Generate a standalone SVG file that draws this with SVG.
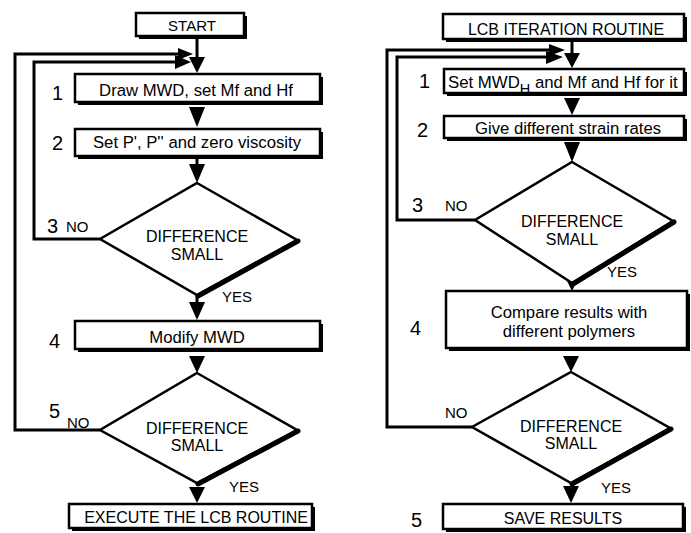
<svg xmlns="http://www.w3.org/2000/svg" width="691" height="533" viewBox="0 0 691 533">
<style>
.bx{fill:#fff;stroke:#000;stroke-width:2.5}
.sh{fill:#000}
.dm{fill:#fff;stroke:#000;stroke-width:2.5;stroke-linejoin:miter}
.de{stroke:#000;stroke-width:5;stroke-linecap:round}
.ln{fill:none;stroke:#000;stroke-width:3}
.ah{fill:#000}
text{font-family:"Liberation Sans",Arial,sans-serif;fill:#000}
.t{font-size:16px;text-anchor:middle}
.b{font-size:16.7px}
.n{font-size:20px}
.s{font-size:15px}
</style>
<rect width="691" height="533" fill="#fff"/>
<g id="connectors">
<polyline class="ln" points="100,430 15,430 15,54 180,54"/>
<polyline class="ln" points="100,239 34,239 34,62 178,62"/>
<polygon class="ah" points="178,48 178,60 193,54"/>
<polygon class="ah" points="175,55 175,69 191,62"/>
<line class="ln" x1="197" y1="39" x2="197" y2="58"/>
<polygon class="ah" points="189,57 205,57 197,73"/>
<polygon class="ah" points="189,107 205,107 197,127"/>
<line class="ln" x1="197" y1="159" x2="197" y2="165"/>
<polygon class="ah" points="189,164 205,164 197,183"/>
<line class="ln" x1="197" y1="294" x2="197" y2="303"/>
<polygon class="ah" points="189,302 205,302 197,320"/>
<polygon class="ah" points="189,356 205,356 197,373"/>
<polygon class="ah" points="189,487 205,487 197,503"/>
<polyline class="ln" points="472,427 387,427 387,50 550,50"/>
<polyline class="ln" points="475,220 397,220 397,57 548,57"/>
<polygon class="ah" points="549,44 549,56 565,50"/>
<polygon class="ah" points="546,51 546,64 563,57"/>
<line class="ln" x1="572" y1="42" x2="572" y2="54"/>
<polygon class="ah" points="564,53 580,53 572,68"/>
<polygon class="ah" points="564,98 580,98 572,115"/>
<polygon class="ah" points="564,142 580,142 572,162"/>
<polygon class="ah" points="565,277 579,277 572,291"/>
<polygon class="ah" points="563,356 579,356 571,372"/>
<polygon class="ah" points="563,486 579,486 571,503"/>
</g>
<g id="start">
<rect class="sh" x="139" y="16" width="108" height="23"/>
<rect class="bx" x="136" y="13" width="108" height="23"/>
<text class="t s" x="192" y="31">START</text>
</g>
<g id="l1">
<rect class="sh" x="78" y="77" width="245" height="28"/>
<rect class="bx" x="75" y="74" width="245" height="28"/>
<text class="t b" x="196" y="96">Draw MWD, set Mf and Hf</text>
<text class="n" x="52" y="100">1</text>
</g>
<g id="l2">
<rect class="sh" x="78" y="132" width="245" height="27"/>
<rect class="bx" x="75" y="129" width="245" height="27"/>
<text class="t b" x="197" y="148">Set P', P'' and zero viscosity</text>
<text class="n" x="52" y="150">2</text>
</g>
<g id="l3">
<polygon class="dm" points="197,183 297,240 197,295 100,239"/>
<line class="de" x1="298" y1="241" x2="198" y2="296"/>
<text class="t" x="197" y="242">DIFFERENCE</text>
<text class="t" x="197" y="260">SMALL</text>
<text class="n" x="47" y="233">3</text>
<text class="s" x="66" y="232">NO</text>
<text class="s" x="222" y="302">YES</text>
</g>
<g id="l4">
<rect class="sh" x="78" y="324" width="245" height="28"/>
<rect class="bx" x="75" y="321" width="245" height="28"/>
<text class="t b" x="197" y="343">Modify MWD</text>
<text class="n" x="49" y="348">4</text>
</g>
<g id="l5">
<polygon class="dm" points="197,373 297,430 197,483 100,430"/>
<line class="de" x1="298" y1="431" x2="198" y2="484"/>
<text class="t" x="197" y="434">DIFFERENCE</text>
<text class="t" x="197" y="451">SMALL</text>
<text class="n" x="49" y="418">5</text>
<text class="s" x="67" y="428">NO</text>
<text class="s" x="229" y="492">YES</text>
</g>
<g id="lend">
<rect class="sh" x="72" y="507" width="243" height="24"/>
<rect class="bx" x="69" y="504" width="243" height="24"/>
<text class="t" x="196" y="523">EXECUTE THE LCB ROUTINE</text>
</g>
<g id="lcb">
<rect class="sh" x="446" y="17" width="241" height="25"/>
<rect class="bx" x="443" y="14" width="241" height="25"/>
<text class="t" x="566" y="35">LCB ITERATION ROUTINE</text>
</g>
<g id="r1">
<rect class="sh" x="447" y="72" width="240" height="24"/>
<rect class="bx" x="444" y="69" width="240" height="24"/>
<text x="448" y="88" style="font-size:16.8px">Set MWD<tspan dy="6" style="font-size:14.5px">H</tspan><tspan dy="-6"> and Mf and Hf for it</tspan></text>
<text class="n" x="419" y="88">1</text>
</g>
<g id="r2">
<rect class="sh" x="447" y="119" width="240" height="22"/>
<rect class="bx" x="444" y="116" width="240" height="22"/>
<text class="t b" x="568" y="134">Give different strain rates</text>
<text class="n" x="417" y="137">2</text>
</g>
<g id="r3">
<polygon class="dm" points="572,162 673,221 572,283 475,220"/>
<line class="de" x1="674" y1="222" x2="573" y2="284"/>
<text class="t" x="572" y="227">DIFFERENCE</text>
<text class="t" x="572" y="245">SMALL</text>
<text class="n" x="412" y="212">3</text>
<text class="s" x="445" y="211">NO</text>
<text class="s" x="607" y="277">YES</text>
</g>
<g id="r4">
<rect class="sh" x="449" y="294" width="241" height="57"/>
<rect class="bx" x="446" y="291" width="241" height="57"/>
<text class="t b" x="569" y="318">Compare results with</text>
<text class="t b" x="569" y="337">different polymers</text>
<text class="n" x="410" y="335">4</text>
</g>
<g id="r5">
<polygon class="dm" points="571,372 670,428 571,483 472,427"/>
<line class="de" x1="671" y1="429" x2="572" y2="484"/>
<text class="t" x="571" y="432">DIFFERENCE</text>
<text class="t" x="571" y="449">SMALL</text>
<text class="s" x="445" y="418">NO</text>
<text class="s" x="601" y="493">YES</text>
</g>
<g id="r6">
<rect class="sh" x="446" y="507" width="240" height="25"/>
<rect class="bx" x="443" y="504" width="240" height="25"/>
<text class="t" x="563" y="524">SAVE RESULTS</text>
<text class="n" x="411" y="527">5</text>
</g>
</svg>
